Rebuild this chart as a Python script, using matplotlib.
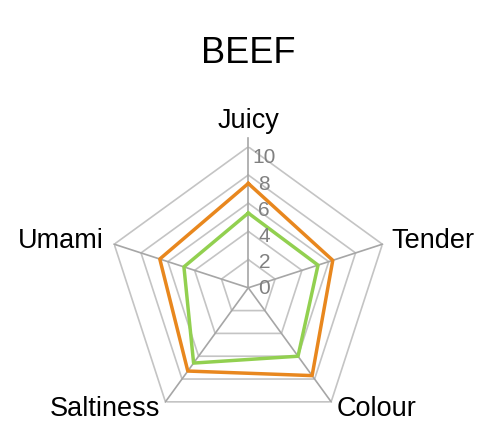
import numpy as np
import matplotlib
matplotlib.use("Agg")
import matplotlib.pyplot as plt

plt.rcParams['font.family'] = ['Liberation Sans', 'DejaVu Sans']

title = "BEEF"
categories = ["Juicy", "Tender", "Colour", "Saltiness", "Umami"]
series_orange = [7.4, 6.3, 7.7, 7.3, 6.6]
series_green = [5.3, 5.2, 6.0, 6.6, 4.8]
ticks = [0, 2, 4, 6, 8, 10]

orange = "#E8871E"
green = "#92D050"
grid_c = "#c4c4c4"
spoke_c = "#a6a6a6"

fig = plt.figure(figsize=(4.84, 4.40), dpi=100)
ax = fig.add_axes([0.2217, 0.0255, 0.5826, 0.6409], projection='polar')
ax.set_theta_zero_location('N')
ax.set_theta_direction(-1)
ax.set_ylim(0, 10)
ax.grid(False)
ax.spines['polar'].set_visible(False)
ax.set_xticks([])
ax.set_yticks([])
ax.patch.set_alpha(0)

n = len(categories)
theta = np.linspace(0, 2 * np.pi, n, endpoint=False)
theta_c = np.append(theta, theta[0])

# pentagon gridlines
for t in ticks[1:]:
    ax.plot(theta_c, [t] * (n + 1), color=grid_c, lw=1.2, zorder=1)
# spokes
for i, th in enumerate(theta):
    top = 10.6 if i == 0 else 10
    ax.plot([th, th], [0, top], color=spoke_c, lw=1.2, zorder=1.5, clip_on=False)

# series
ax.plot(theta_c, series_orange + series_orange[:1], color=orange, lw=2.5, zorder=3)
ax.plot(theta_c, series_green + series_green[:1], color=green, lw=2.5, zorder=3)

# tick labels
for t in ticks:
    ax.annotate(str(t), xy=(0, t), xytext=(11.5, -0.75 * t - 0.5), textcoords='offset points',
                ha='center', va='center', fontsize=15, color='#808080',
                annotation_clip=False, zorder=4)

# category labels
label_pos = [
    (11.8, 'center', 'center'),
    (10.7, 'left', 'center'),
    (10.6, 'left', 'center'),
    (10.6, 'right', 'center'),
    (10.8, 'right', 'center'),
]
for th, lab, (r, ha, va) in zip(theta, categories, label_pos):
    ax.text(th, r, lab, ha=ha, va=va, fontsize=19.5, color='black', clip_on=False)

fig.text(0.5124, 1 - 63 / 440, title, ha='center', va='baseline', fontsize=26, color='black')

fig.savefig("out.png", dpi=100)
